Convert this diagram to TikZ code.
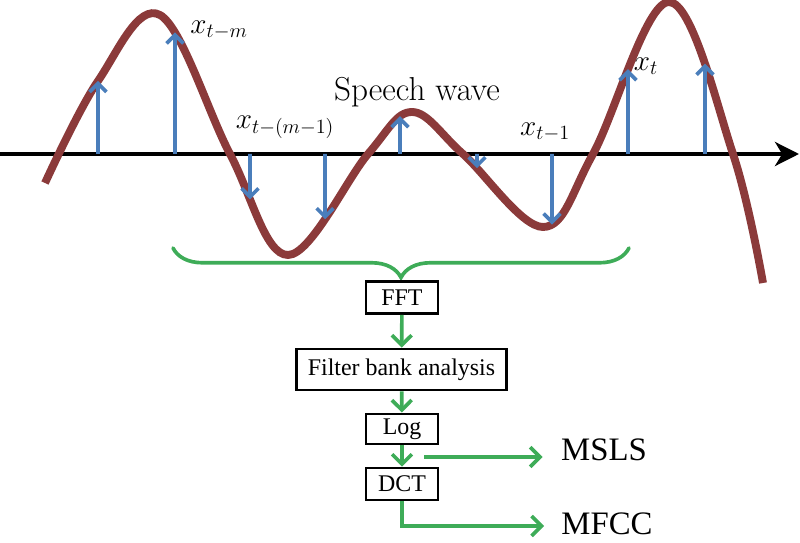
\documentclass[tikz,border=0pt]{standalone}
\usepackage{amsmath}
\usepackage{fontspec}
\newfontfamily\cajafont{Liberation Serif}
\usepackage{xcolor}
\definecolor{ondaroja}{RGB}{139, 58, 58}
\definecolor{muestrazul}{RGB}{74, 126, 187}
\definecolor{flujoverde}{RGB}{62, 172, 88}
\usepackage{tikz}
\usetikzlibrary{arrows.meta, decorations.pathreplacing, intersections}

\begin{document}
\begin{tikzpicture}[x=0.025cm, y=-0.025cm,
        caja/.style={draw, line width=1.8pt, inner sep=0pt, minimum width=1.8cm,
            font=\cajafont\fontsize{17}{19}\selectfont},
        salida/.style={inner sep=0pt, font=\cajafont\fontsize{23.3}{27}\selectfont},
        etiq/.style={inner sep=0pt, font=\fontsize{19.5}{22}\selectfont},
        flujo/.style={flujoverde, line width=2.6pt, -{Straight Barb[length=7pt, width=14pt]}},
        muestra/.style={muestrazul, line width=2.6pt, -{Straight Barb[length=6pt, width=12pt]}}]
        \useasboundingbox (0,0) rectangle (800,543);
        \coordinate (o) at (0,154);
        \coordinate (e) at (799,154);
        \draw[line width=3.5pt, -{Stealth[length=17pt, width=17pt, inset=5pt]}] (o) -- (e);
        \draw[ondaroja, line width=5.6pt, name path=onda] plot[smooth, tension=0.6] coordinates
            {(45,183) (98,81) (160,15) (230,154) (288,255) (368,154) (412,112) (463,154)
             (543,227) (593,154) (669,2) (733,154) (763,283)};
        \foreach \x [count=\i] in {98,175,250,325,400,477,552,628,705} {
            \path[name path=v] (\x,0) -- (\x,300);
            \path[name intersections={of=onda and v, by=s\i}];
            \coordinate (b\i) at (\x,154);
            \draw[muestra] (b\i) -- (s\i);
        }
        \node[etiq] (xm) at (219,30) {$x_{t-m}$};
        \node[etiq] (xm1) at (285,127) {$x_{t-(m-1)}$};
        \node[etiq] (x1) at (545,132) {$x_{t-1}$};
        \node[etiq] (xt) at (646,66) {$x_t$};
        \node[font=\fontsize{23.6}{28}\selectfont] (habla) at (417,92) {Speech wave};
        \coordinate (bl) at (173,248);
        \coordinate (br) at (629,248);
        \draw[flujoverde, line width=2.6pt, line cap=round, decorate,
            decoration={brace, mirror, amplitude=21pt}] (bl) -- (br);
        \node[caja, minimum height=0.8cm] (fft) at (402,297.5) {FFT};
        \node[caja, minimum width=5.25cm, minimum height=1.03cm] (fba) at (401.5,369.5) {Filter bank analysis};
        \node[caja, minimum height=0.76cm] (log) at (402,429) {Log};
        \node[caja, minimum height=0.8cm] (dct) at (402,484) {DCT};
        \draw[flujo] (fft) -- (fba);
        \draw[flujo] (fba) -- (log);
        \draw[flujo] (log) -- (dct);
        \node[salida] (msls) at (604,450) {MSLS};
        \node[salida] (mfcc) at (607,523.5) {MFCC};
        \coordinate (m0) at (424,457);
        \coordinate (m1) at (544,526);
        \draw[flujo, shorten >=13pt] (m0) -- (m0 -| msls.west);
        \draw[flujo] (dct.south) |- (m1);
    \end{tikzpicture}
\end{document}
